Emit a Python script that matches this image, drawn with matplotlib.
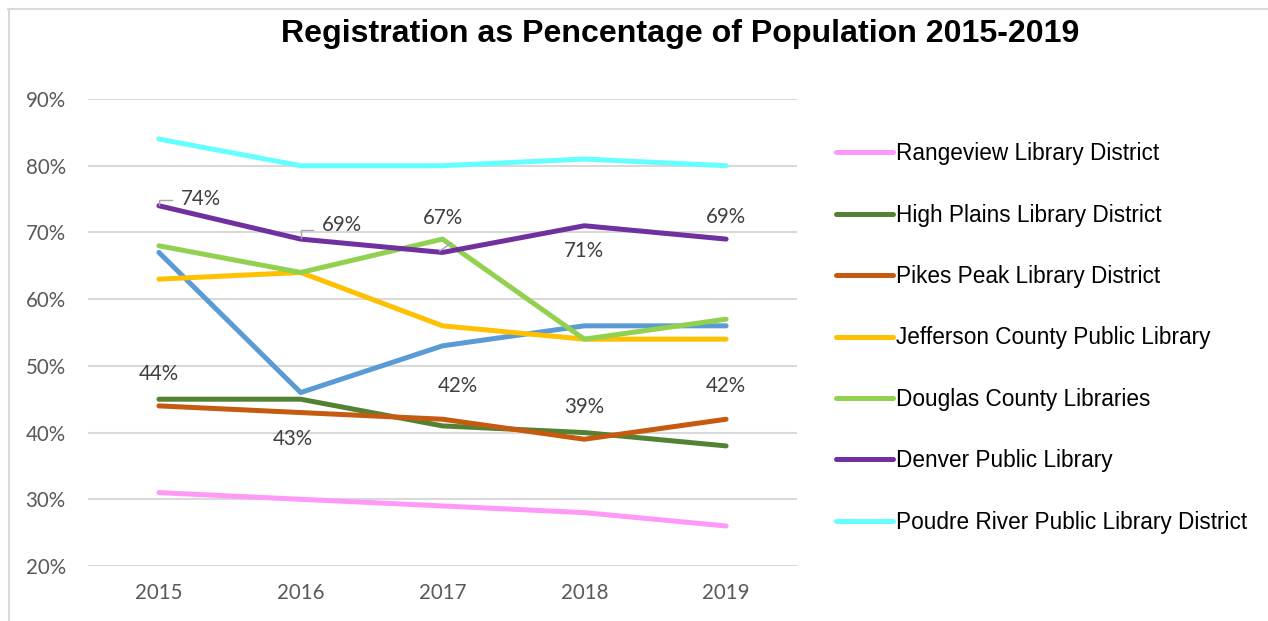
import matplotlib.pyplot as plt
from matplotlib.lines import Line2D

years = ['2015', '2016', '2017', '2018', '2019']

rangeview = [31, 30, 29, 28, 26]
high_plains = [45, 45, 41, 40, 38]
pikes_peak = [44, 43, 42, 39, 42]
jefferson = [63, 64, 56, 54, 54]
douglas = [68, 64, 69, 54, 57]
denver = [74, 69, 67, 71, 69]
poudre = [84, 80, 80, 81, 80]
unlabeled = [67, 46, 53, 56, 56]

names = ['Rangeview Library District', 'High Plains Library District',
         'Pikes Peak Library District', 'Jefferson County Public Library',
         'Douglas County Libraries', 'Denver Public Library',
         'Poudre River Public Library District']
colors = ['#FF99F8', '#548235', '#C55A11', '#FFC000', '#92D050', '#7030A0', '#66FFFF']
series = [rangeview, high_plains, pikes_peak, jefferson, douglas, denver, poudre]

fig = plt.figure(figsize=(12.68, 6.21), dpi=100)
ax = fig.add_axes([88 / 1268, 1 - 566 / 621, (797 - 88) / 1268, (566 - 99) / 621])

x = range(len(years))
ax.plot(x, unlabeled, color='#5B9BD5', lw=3.6, solid_capstyle='round', zorder=3)
for vals, c, n in zip(series, colors, names):
    ax.plot(x, vals, color=c, lw=3.6, solid_capstyle='round', label=n, zorder=3)

ax.set_xlim(-0.5, 4.5)
ax.set_ylim(20, 90)
ax.set_yticks(range(20, 91, 10))
ax.set_yticklabels(['{}%'.format(v) for v in range(20, 91, 10)])
ax.set_xticks(list(x))
ax.set_xticklabels(years)
ax.grid(axis='y', color='#D9D9D9', lw=1.5, zorder=0)
for s in ax.spines.values():
    s.set_visible(False)
ax.tick_params(length=0, labelsize=14.8, labelcolor='#595959')
ax.tick_params(axis='x', pad=12)
ax.tick_params(axis='y', pad=16)
for lbl in ax.get_xticklabels() + ax.get_yticklabels():
    lbl.set_family('Lato')

# data labels (offsets in points)
lab_kw = dict(textcoords='offset points', fontsize=14.8, color='#404040',
              family='Lato', ha='center', va='center')
den_off = [(30, 5), (30, 10), (0, 25), (0, -18), (0, 16)]
for i, (v, off) in enumerate(zip(denver, den_off)):
    ax.annotate('{}%'.format(v), (i, v), xytext=off, **lab_kw)
# small leader marks on Denver labels
ax.plot([0, 0, 0.09], [denver[0] + 0.1, denver[0] + 0.9, denver[0] + 0.9],
        color='#A6A6A6', lw=1, zorder=4)
ax.plot([1, 1, 1.09], [denver[1] + 0.2, denver[1] + 1.3, denver[1] + 1.3],
        color='#A6A6A6', lw=1, zorder=4)
ax.plot([1.98, 2.06], [denver[2] + 0.2, denver[2] + 1.4], color='#A6A6A6', lw=1, zorder=4)

pk_off = [(0, 23), (-6, -19), (11, 24), (0, 23), (0, 24)]
for i, (v, off) in enumerate(zip(pikes_peak, pk_off)):
    ax.annotate('{}%'.format(v), (i, v), xytext=off, **lab_kw)

leg = fig.legend(handles=[Line2D([], [], color=c, lw=3.6, solid_capstyle='round') for c in colors],
                 labels=names, loc='upper left', bbox_to_anchor=(816 / 1268, 1 - 122 / 621),
                 frameon=False, handlelength=2.5, handletextpad=0.15, labelspacing=1.695,
                 prop={'family': 'Liberation Sans', 'size': 16.3})

fig.suptitle('Registration as Pencentage of Population 2015-2019', x=680 / 1268, y=1 - 34 / 621,
             va='center', fontsize=23.1, fontweight='bold', family='Liberation Sans')

# outer frame lines (top and left)
fig.add_artist(Line2D([8 / 1268, 1], [1 - 8.5 / 621, 1 - 8.5 / 621], color='#D9D9D9', lw=1.5))
fig.add_artist(Line2D([8.5 / 1268, 8.5 / 1268], [0, 1 - 8.5 / 621], color='#D9D9D9', lw=1.5))

fig.savefig('out.png', dpi=100)
